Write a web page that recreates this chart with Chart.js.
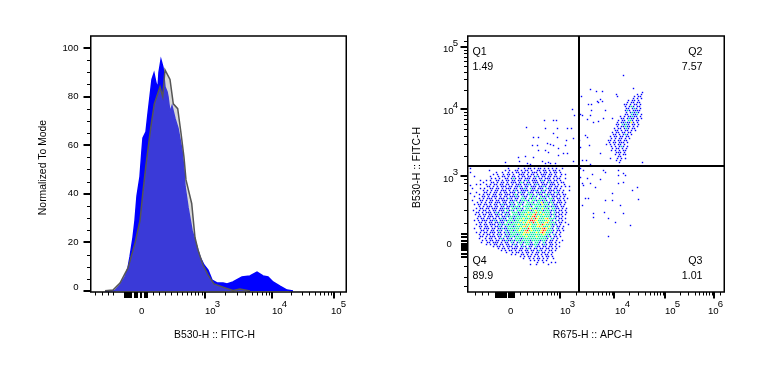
<!DOCTYPE html>
<html><head><meta charset="utf-8">
<script src="https://cdn.jsdelivr.net/npm/chart.js@4"></script>
<style>html,body{margin:0;padding:0;background:#fff;overflow:hidden}
canvas{position:absolute;top:0}</style></head><body>
<canvas id="h" width="383" height="383" style="left:0;width:383px;height:383px"></canvas>
<canvas id="s" width="383" height="383" style="left:383px;width:383px;height:383px"></canvas>
<script>
// Axis values are display channels of the biexponential FlowJo axes (0-256).
const overlayX=[14,22,29,37,44,49,52,55,59.7,63.3,69,71.7,74,79,82.3,86.7,90,93,95,100.7,104,107,112,117,123,132,142,149,159];
const overlayY=[0.1,0.4,3.3,9.5,19.7,29,41,52,67,77,84,80,91,87,77,75,65,55,45.7,36,22,16.9,10.7,6.6,2.9,1.6,0.2,0.8,0];
const sampleX=[14,24,29,34,37,39,42,44,46,49,51,52,55,57,59,61,63,65,67,68,70,72,74,76,77,79,81,84,87,91,93,94,97,101,105,109,113,117,121,126,132,136,142,151,159,166,172,177,182,189,196,202];
const sampleY=[0.1,0.2,2.5,5.8,9.5,14,22,29,39,47,58,63,65.5,73,80,87,89.5,85.5,83.5,90,95,92,84,82,80,73.5,76,71,67,58,50,43,34.5,25,19.5,14,10.7,8.6,4.5,3.3,3.3,2.9,3.7,5.8,6.2,7.8,6.2,5.8,3.7,2,0.4,0];
const histYTicks=[0,20,40,60,80,100];
const histYMinor=[5,10,15,25,30,35,45,50,55,65,70,75,85,90,95];
const histYLabelAt=[1.4,20,40,60,80,100];
const histXMajor=[114,181,243];
const histXLow=[4,11,17,22,62,68,74,80,86,91,96,100,104,107,111];
const histXCluster=[34,36,38,39.5,44,46,50,54,56];
const histXTop=[249];
const histXLabels=[["0",null,48],["10","3",114],["10","4",181],["10","5",240]];
const gateX=111, gateY=126;
const quadLabels=["Q1","Q2","Q3","Q4"], quadValues=["1.49","7.57","1.01","89.9"];
const scatXMajor=[92,146,197,246];
const scatXLow=[7,14,20,52,59,65,70,74,79,83,86,89];
const scatXCluster=[28,30,32,34,36,38,41,42.5,44,46];
const scatXLabels=[["0",null,40],["10","3",92],["10","4",147],["10","5",197],["10","6",240]];
const scatYMajor=[116,183,245];
const scatYLow=[6,15,26,69,82,93,102,109,113];
const scatYCluster=[35.5,38,42,44.5,46,48,51,55,58];
const scatYLabels=[["10","3",113],["10","4",180.5],["10","5",242.5]];
const scatZeroLabelAt=48;
const clusterRows=[
"b..................b....b..b.bb.b.bb.b.b.b.b..b...",
".........b.......b.b..bb.b.bb.b..bb.bb.b.bb.b.....",
"b............b..b..b.b.bb.bb.b.bbb.b.bb.b.bb.b....",
"...........b.b..b.bb.b..bbb.b.bb.b.bbb.bb.b..b.b..",
"..b.......b...b.bb.b.bb.b.bb.bb.bcb.bb.bb.bb.b....",
"..........b.b.b..bb.bgb.bb.bbb.bb.bb.bbb.b.bb..b..",
".....b..b.b..bb.b.bb.bb.bb.bcb.bbb.bcb.bb.bb.b....",
"......b...bb.b.bb.b.bbb.bgb.bb.bbb.bb.bcbb.b.bb...",
"...b.b..b.b.bb.bb.bb.b.bbb.bbcb.bcb.bbb.bbb.b..b..",
"........bb.b.b.bbb.bb.bbcb.bb.bbb.bbcb.bb.bb.b.b.b",
".b...b.b..bb.bb.b.bbb.bb.bbcb.gbb.bbb.cbb.bb.b....",
"......b.b.b.bb.bbb.b.bcb.bbbb.bbcb.bgb.bbb.bb.b..b",
"...b...bb.b.bb.b.bb.bbb.bcbb.cbb.bbcbb.bb.bcb.b...",
"....b.b.bb.bb.bb.bbb.bgb.bb.bcgb.cbb.gbcbb.bb.bb..",
"..b...bb.b.bbb.b.bb.bbbcb.cbb.gbcb.gbbcb.bbb.b.b..",
"....b.b.bbb.b.bbb.bcb.bb.cgb.cbgc.bgcb.cgb.bb.b.b.",
".b...bb.b.bb.bb.bbb.bbcb.bcgcb.gcbgcbgb.cbb.bb.b..",
"...b.b.b.bb.bbb.bb.bcb.gbcb.gcgb.cgybgcbgb.bbb.b..",
"..b.bb.bb.b.bb.bcbb.bcb.cgb.gcbgcgcbycgb.cbb.b.b..",
"....b.b.bbb.bb.bb.bbcbgcb.cgcgb.gcgcgbcgbcbb.bb...",
"...b.bb.bb.bbb.bbcbb.gcbcgb.cgygcbgcycgb.gcbb.b.b.",
".b..b.bb.b.bb.bbb.gbcb.cgbgcgcbgygcgbcgcbcb.bb.b..",
"...bb.b.bbb.bcb.bcbb.gcgbcgcgygcgogycgcgb.cbb.b.b.",
"..b.b.bb.bb.bbgb.bcb.cgcbgcygcgyrgcgycgcbgb.bb.b..",
"....bb.b.bbb.bb.bbcbgcbcgcgcgygorgygcgcgb.cbb.b...",
"...b.bb.bb.bb.bcbb.cgbcgcgygcgogrygcgyocgcb.bb.b..",
"..b.b.bbb.bbcb.bbcbgcgbcgygcgyrroygcgcgycb.cb.b...",
"....bb.b.bb.bbcbb.gcbcgcgcygyogrgygcgyogcgb.bb.b..",
"...b.b.bb.bbb.bcbcgbcgcgygcgogygcgygrygcgbcb.b...b",
"....bb.bb.b.bbcb.bcgcbcgcgyogygcgyoygcgycb.bb.b...",
"..b..b.bbb.bb.bbcbbgcgcgcygcgrygcgcgorygcb.cb.b...",
".....bb.b.bb.bcb.cbcgbcgygcorgygcgcyrogcgb.bb.b...",
"...b.b.bb.bbb.bb.bcbgcgcgcgyoygcgygyrycgcb.b.b....",
"....b.b.bb.b.bcb.bcbcgcbcgygcgcgcgcgygcb.cb.b.....",
".....bb.b.bbb.bb.cbbgcbgcgcgygcgcygcgcbgb.bb.b....",
"....b..b.bb.b.bcb.bcb.cgcbcgcgcgcgcgcgb.cb.b......",
"......b.b.bb.bb.bbcbbcbgcbgcgcbgcgcbcgb.bb.b..b...",
".....b..bb.bbb.b.bb.cb.bcgbcgcb.cgb.cb.bb.b.b.....",
"........b.b.bb.bb.bb.bcb.cb.gcbbgcb.bcb.bb.b......",
"...........b.bb.b.bbb.bb.bcb.bb.cbb.bb.bb.b.b.....",
"..............b.bb.b.bbb.bb.bcb.bb.bb.bb.b.b......",
"...............b.b.bb.b.bb.bb.bb.bcb.b.bb.b.......",
"..................b..b.bb.b.bb.b.bb.bb.b.b........",
"....................b.b..bb.b.b.bb.b.bb.b.........",
".........................b.b.bb.b.b.b.bb.b........",
"..........................b..b.b.bb.b.b..b........",
"..............................b.b.b.b.b...........",
".................................b..b...b.b.......",
"..............................b..b.....b.........."];
const q2Rows=[
"...................b.","................b.b..","...............b.bb..","..............b.b.b..",
"............b.bb.b...","...........b.bb.bb...","..........bb.b.bb.b..","..........b.bgb.bb...",
"...........bb.bcb.b..","..........bcb.bbbb...","...........b.bcbcb...","..........bb.cbbc.b..",
"........b.b.bbcbb.b..","........bb.bcbb.b.b..",".......b.bb.cgb.bb...","......b.bbcbbyb.b....",
"......bb.cbcb.bb.b...","......b.bbgbb.b.b....",".....b.bb.bcb.bb.....",".....bb.b.bb.b.b.....",
"....b.bb.bb.bb.......","....bb.b.bcb.b.......","...b.bb.bb.bb........","...b.b.bb.b.b........",
"..bb.b.bb.bb.........","..b.bb.bbb.b.........",".b.b.b.bb.b..........","...b.b.bcb.b.........",
"....b.bb.b.b.........","...b.b.b.bb..........","......bbb.b..........",".....b.b.bb..........",
".......bb............","......b.b.b..........","......b.b............",".......b............."];
const sparseX=[155,113,122,128,134,148,149,165,120,123,129,132,134,130,137,144,104,106,112,114,123,122,119,125,130,135,76,85,88,58,77,89,99,103,65,70,85,89,98,105,117,119,64,69,79,82,85,97,111,121,70,77,80,90,99,50,57,65,51,37,74,80,90,95,105,112,114,118,122,132,142,174,82,87,59,62,77,112,115,124,112,119,127,135,137,150,155,150,157,132,115,122,155,150,114,144,164,169,170,120,117,137,144,152,114,136,155,125,125,140,147,162,140,2,2];
const sparseY=[217,196,203,201,201,198,196,204,188,188,191,193,191,190,182,174,183,177,178,177,182,177,173,170,171,174,172,172,172,165,164,164,164,164,155,155,159,155,152,154,157,155,147,147,149,148,147,147,152,147,142,142,140,144,139,135,136,135,131,130,131,130,137,139,131,145,132,132,128,139,134,130,129,129,129,128,129,124,122,118,115,114,105,122,120,122,119,117,117,113,107,109,110,109,109,99,102,105,93,94,94,92,92,87,87,80,79,79,75,74,70,67,56,107,99];
const densityColors={b:"#0000ff",c:"#00d0c0",g:"#00ff80",y:"#ffff00",o:"#ff9000",r:"#ff0000"};

const FONT='10.4px "Liberation Sans", Arial, sans-serif';
const TICKFONT='9.6px "Liberation Sans", Arial, sans-serif';
const QUADFONT='10.67px "Liberation Sans", Arial, sans-serif';
const pts=(xs,ys)=>xs.map((x,i)=>({x,y:ys[i]}));
const decade=(a,b)=>[2,3,4,5,6,7,8,9].map(k=>a+(b-a)*Math.log10(k));

function art(cfg){return {id:"art"+cfg.id,afterDatasetsDraw(c){
  const g=c.ctx,a=c.chartArea,X=c.scales.x,Y=c.scales.y;
  g.save();
  g.fillStyle=g.strokeStyle="#000";
  const tx=(v,l,w)=>{const p=Math.round(X.getPixelForValue(v));g.lineWidth=w;g.beginPath();g.moveTo(p+(w==2?0:0.5),a.bottom);g.lineTo(p+(w==2?0:0.5),a.bottom+l);g.stroke();};
  const ty=(v,l,w)=>{const p=Math.round(Y.getPixelForValue(v));g.lineWidth=w;g.beginPath();g.moveTo(a.left,p+(w==2?0:0.5));g.lineTo(a.left-l,p+(w==2?0:0.5));g.stroke();};
  cfg.xMinor.forEach(v=>tx(v,3.5,1));
  cfg.xCluster.forEach(v=>tx(v,6,2));
  cfg.xMajor.forEach(v=>tx(v,6.5,2));
  cfg.yMinor.forEach(v=>ty(v,4,1));
  cfg.yCluster.forEach(v=>ty(v,7,2));
  cfg.yMajor.forEach(v=>ty(v,7.5,2));
  g.lineWidth=1.5;
  g.strokeRect(a.left-0.25,a.top,a.right-a.left+0.5,a.bottom-a.top);
  g.font=TICKFONT;g.textBaseline="middle";
  const sup=(b,e,x,y)=>{g.textAlign="left";g.fillText(b,x,y);
    if(e){g.fillText(e,x+g.measureText(b).width-1,y-6.5);}};
  cfg.xLabels.forEach(([b,e,v])=>sup(b,e,X.getPixelForValue(v),311));
  cfg.drawY(g,Y,a,sup);
  g.font=FONT;g.textAlign="center";
  g.fillText(cfg.xTitle,cfg.xTitleAt,335);
  g.save();g.translate(cfg.yTitleAt[0],cfg.yTitleAt[1]);g.rotate(-Math.PI/2);g.fillText(cfg.yTitle,0,0);g.restore();
  if(cfg.extra)cfg.extra(g,a);
  g.restore();
}};}

const base={responsive:false,animation:false,events:[],
  elements:{point:{radius:0},line:{tension:0}},
  plugins:{legend:{display:false},tooltip:{enabled:false}}};

new Chart(document.getElementById("h"),{type:"line",
 data:{datasets:[
  {data:pts(overlayX,overlayY),borderColor:"#555555",borderWidth:1.5,backgroundColor:"rgba(153,153,153,0.38)",fill:"origin"},
  {data:pts(sampleX,sampleY),borderColor:"#0000ff",borderWidth:1.5,backgroundColor:"#0000ff",fill:"origin"}]},
 options:{...base,layout:{padding:{left:91,right:37,top:36,bottom:91}},
  scales:{x:{type:"linear",min:0,max:255,display:false},y:{type:"linear",min:-0.41,max:104.9,display:false}}},
 plugins:[art({id:1,xMajor:histXMajor,xCluster:histXCluster,
  xMinor:[...histXLow,...decade(114,181),...decade(181,243),...histXTop],
  yMajor:histYTicks,yMinor:histYMinor,yCluster:[],xLabels:histXLabels,
  xTitle:"B530-H :: FITC-H",xTitleAt:214.5,yTitle:"Normalized To Mode",yTitleAt:[43,167.5],
  drawY(g,Y,a){g.textAlign="right";histYTicks.forEach((t,i)=>g.fillText(String(t),78.5,Y.getPixelForValue(histYLabelAt[i])));}})]
});

const groups={b:[],c:[],g:[],y:[],o:[],r:[]};
const addRaster=(rows,x0,yTop)=>rows.forEach((row,r)=>[...row].forEach((ch,i)=>{if(groups[ch])groups[ch].push({x:x0+2*i+(r%2)+0.5,y:yTop-2*r-0.5});}));
addRaster(clusterRows,2,124);
addRaster(q2Rows,136,200);
sparseX.forEach((x,i)=>groups.b.push({x:x+0.5,y:sparseY[i]-0.5}));
const dotSets=["r","o","y","g","c","b"].map(k=>({type:"scatter",data:groups[k],backgroundColor:densityColors[k],borderWidth:0,pointStyle:"rect",pointRadius:1,pointHoverRadius:1}));
const gate=(d)=>({type:"line",data:d,borderColor:"#000",borderWidth:2,pointRadius:0,fill:false});

new Chart(document.getElementById("s"),{type:"scatter",
 data:{datasets:[gate([{x:gateX,y:0},{x:gateX,y:256}]),gate([{x:0,y:gateY},{x:256,y:gateY}]),...dotSets]},
 options:{...base,layout:{padding:{left:85,right:42,top:36,bottom:91}},
  scales:{x:{type:"linear",min:0,max:256,display:false},y:{type:"linear",min:0,max:256,display:false}}},
 plugins:[art({id:2,xMajor:scatXMajor,xCluster:scatXCluster,
  xMinor:[...scatXLow,...decade(92,146),...decade(146,197),...decade(197,246),252],
  yMajor:scatYMajor,yCluster:scatYCluster,
  yMinor:[...scatYLow,...decade(116,183),...decade(183,245),251],
  xLabels:scatXLabels,
  xTitle:"R675-H :: APC-H",xTitleAt:209.5,yTitle:"B530-H :: FITC-H",yTitleAt:[34,167.5],
  drawY(g,Y,a,sup){
    scatYLabels.forEach(([b,e,v])=>sup(b,e,60,Y.getPixelForValue(v)));
    g.textAlign="left";g.fillText("0",63.5,Y.getPixelForValue(scatZeroLabelAt));
  },
  extra(g,a){
    g.font=QUADFONT;g.textAlign="left";
    g.fillText(quadLabels[0],89.5,52);g.fillText(quadValues[0],89.5,67);
    g.fillText(quadLabels[3],89.5,261);g.fillText(quadValues[3],89.5,276);
    g.textAlign="right";
    g.fillText(quadLabels[1],319.5,52);g.fillText(quadValues[1],319.5,67);
    g.fillText(quadLabels[2],319.5,261);g.fillText(quadValues[2],319.5,276);
  }})]
});
</script></body></html>
